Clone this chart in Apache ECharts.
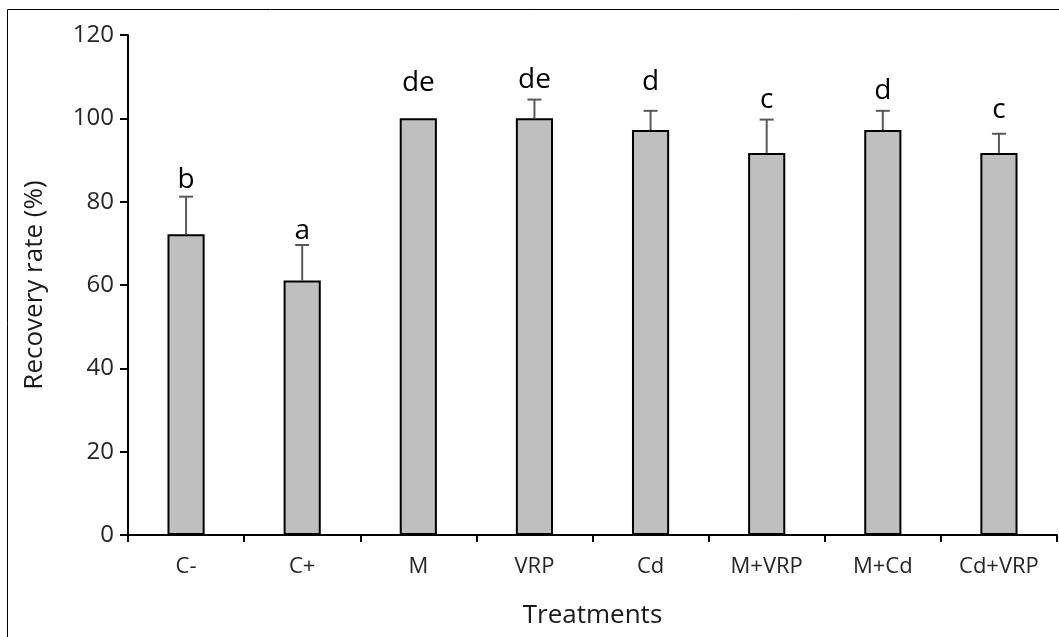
<!DOCTYPE html>
<html><head><meta charset="utf-8">
<script src="https://cdn.jsdelivr.net/npm/echarts@6/dist/echarts.min.js"></script>
<style>html,body{margin:0;padding:0;background:#fff}#c{width:1059px;height:637px}</style>
</head><body><div id="c"></div>
<script>
const categories = ['C-', 'C+', 'M', 'VRP', 'Cd', 'M+VRP', 'M+Cd', 'Cd+VRP'];
const recovery = [72.2, 61.1, 100, 100, 97.2, 91.7, 97.2, 91.7];
const errors = [9.0, 8.5, 0, 4.5, 4.6, 8.0, 4.6, 4.6];
const letters = ['b', 'a', 'de', 'de', 'd', 'c', 'd', 'c'];
const letterLevel = [83.5, 71.3, 106.8, 107.6, 107.0, 102.6, 104.8, 100.4];
const yTicks = [0, 20, 40, 60, 80, 100, 120];

const FONT = '"Open Sans"';
const chart = echarts.init(document.getElementById('c'), null, {renderer: 'canvas'});
chart.setOption({
  animation: false,
  backgroundColor: '#fff',
  graphic: [{
    type: 'polyline', silent: true,
    shape: {points: [[7.5, 637], [7.5, 9.5], [1059, 9.5]]},
    style: {stroke: '#000', lineWidth: 1, fill: null}
  }],
  grid: {left: 128, right: 2, top: 35, bottom: 102, containLabel: false},
  xAxis: {
    type: 'category', data: categories,
    name: 'Treatments', nameLocation: 'middle', nameGap: 68,
    nameTextStyle: {fontFamily: FONT, fontSize: 26, color: '#1a1a1a'},
    axisLine: {lineStyle: {color: '#000', width: 2}},
    axisTick: {show: true, length: 7, lineStyle: {color: '#000', width: 2}, alignWithLabel: false},
    axisLabel: {fontFamily: FONT, fontSize: 22, color: '#262626', margin: 21}
  },
  yAxis: {
    type: 'value', min: yTicks[0], max: yTicks[yTicks.length - 1], interval: 20,
    name: 'Recovery rate (%)', nameLocation: 'middle', nameGap: 80,
    nameTextStyle: {fontFamily: FONT, fontSize: 26, color: '#1a1a1a'},
    splitLine: {show: false},
    axisLine: {show: true, lineStyle: {color: '#000', width: 2}},
    axisTick: {show: true, length: 8, lineStyle: {color: '#000', width: 2}},
    axisLabel: {fontFamily: FONT, fontSize: 24, color: '#262626', margin: 14}
  },
  series: [{
    type: 'bar', data: recovery, barWidth: '32%',
    itemStyle: {color: '#bfbfbf', borderColor: '#000', borderWidth: 2}
  }, {
    type: 'custom', z: 5,
    data: recovery.map((v, i) => [i, v, v + errors[i]]),
    renderItem: function (params, api) {
      const i = api.value(0);
      const p0 = api.coord([i, api.value(1)]);
      const p1 = api.coord([i, api.value(2)]);
      if (Math.abs(p1[1] - p0[1]) < 0.5) return null;
      const cw = 7;
      const st = {stroke: '#595959', lineWidth: 2};
      return {type: 'group', children: [
        {type: 'line', shape: {x1: p0[0], y1: p0[1], x2: p1[0], y2: p1[1]}, style: st},
        {type: 'line', shape: {x1: p1[0] - cw, y1: p1[1], x2: p1[0] + cw, y2: p1[1]}, style: st}
      ]};
    }
  }, {
    type: 'custom', z: 6,
    data: letterLevel.map((v, i) => [i, v]),
    renderItem: function (params, api) {
      const i = api.value(0);
      const p = api.coord([i, api.value(1)]);
      return {type: 'text', x: p[0], y: p[1] + 7, style: {
        text: letters[params.dataIndex], fontFamily: FONT, fontSize: 28, fill: '#000',
        align: 'center', verticalAlign: 'bottom'
      }};
    }
  }]
});
</script></body></html>
